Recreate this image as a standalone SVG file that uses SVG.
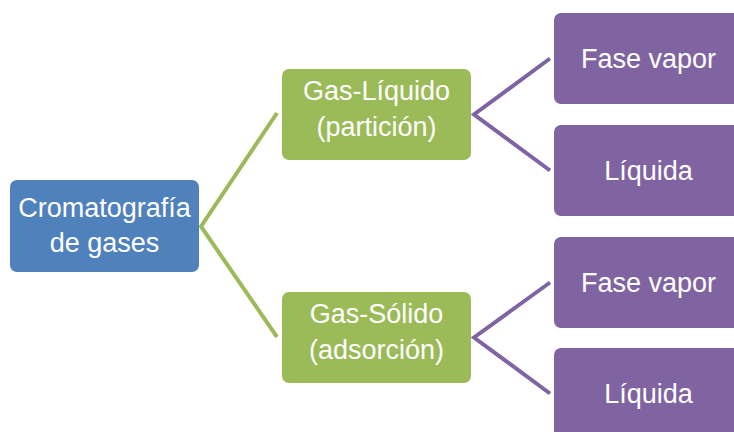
<svg xmlns="http://www.w3.org/2000/svg" width="734" height="432" viewBox="0 0 734 432">
<style>
.t{font-family:"Liberation Sans","DejaVu Sans",sans-serif;font-size:27px;fill:#fff;text-anchor:middle}
.g{stroke:#9BBB59;stroke-width:4;fill:none}
.p{stroke:#8064A2;stroke-width:4;fill:none}
</style>
<rect width="734" height="432" fill="#fff"/>
<g id="connectors">
<polyline class="g" points="277,113 201,226.5 277,337"/>
<polyline class="p" points="550,58.5 474,114.5 550,170.5"/>
<polyline class="p" points="550,282.5 474,337.5 550,393.5"/>
</g>
<g id="n-root">
<rect x="10" y="180" width="189" height="92" rx="7" fill="#4F81BD"/>
<text class="t" x="104.5" y="217">Cromatografía</text>
<text class="t" x="104.5" y="252">de gases</text>
</g>
<g id="n-gl">
<rect x="282" y="69" width="189" height="91" rx="7" fill="#9BBB59"/>
<text class="t" x="376.5" y="100">Gas-Líquido</text>
<text class="t" x="376.5" y="136">(partición)</text>
</g>
<g id="n-gs">
<rect x="282" y="292" width="189" height="91" rx="7" fill="#9BBB59"/>
<text class="t" x="376.5" y="323">Gas-Sólido</text>
<text class="t" x="376.5" y="359">(adsorción)</text>
</g>
<g id="n-fv1">
<rect x="554" y="13" width="189" height="91" rx="7" fill="#8064A2"/>
<text class="t" x="648.5" y="68">Fase vapor</text>
</g>
<g id="n-l1">
<rect x="554" y="125" width="189" height="91" rx="7" fill="#8064A2"/>
<text class="t" x="648.5" y="180">Líquida</text>
</g>
<g id="n-fv2">
<rect x="554" y="237" width="189" height="91" rx="7" fill="#8064A2"/>
<text class="t" x="648.5" y="292">Fase vapor</text>
</g>
<g id="n-l2">
<rect x="554" y="348" width="189" height="91" rx="7" fill="#8064A2"/>
<text class="t" x="648.5" y="403">Líquida</text>
</g>
</svg>
